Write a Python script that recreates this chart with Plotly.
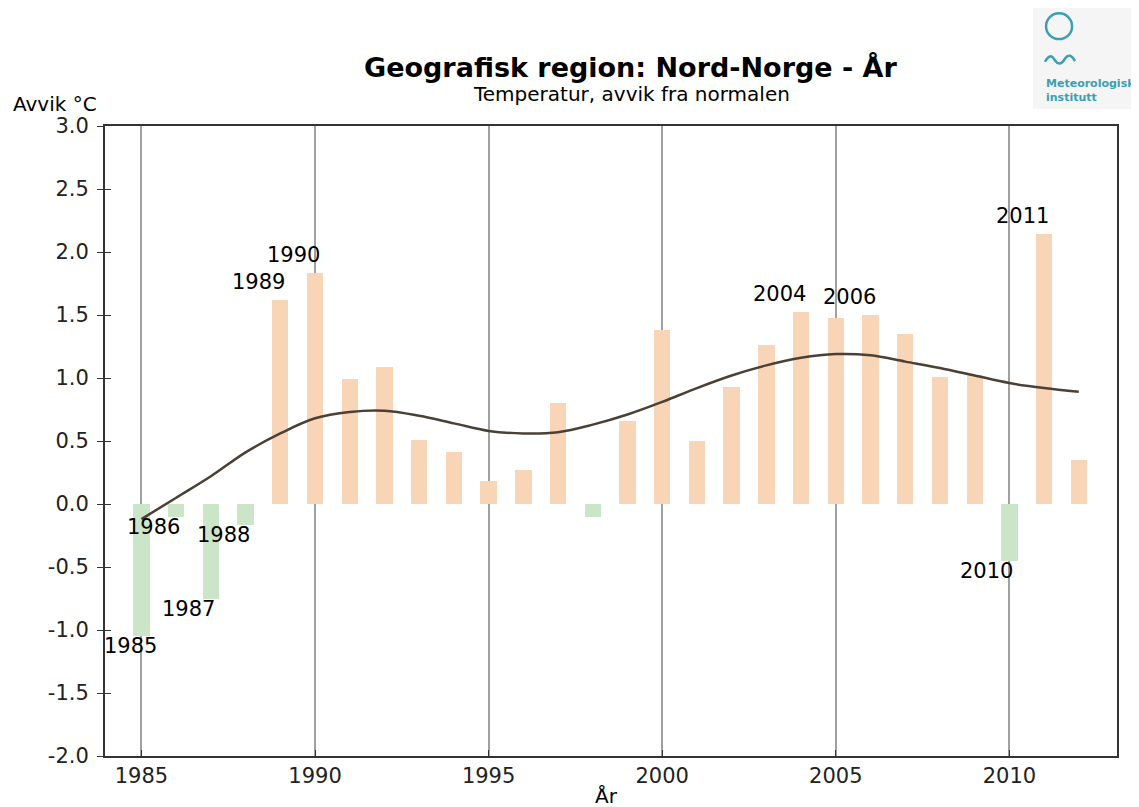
import plotly.graph_objects as go

years = list(range(1985, 2013))
avvik = [-1.05, -0.10, -0.75, -0.17, 1.62, 1.83, 0.99, 1.09, 0.51, 0.41,
         0.18, 0.27, 0.80, -0.10, 0.66, 1.38, 0.50, 0.93, 1.26, 1.52,
         1.48, 1.50, 1.35, 1.01, 1.02, -0.45, 2.14, 0.35]
trend = [-0.12, 0.05, 0.22, 0.41, 0.56, 0.68, 0.73, 0.74, 0.70, 0.64,
         0.58, 0.56, 0.57, 0.63, 0.71, 0.81, 0.92, 1.02, 1.10, 1.16,
         1.19, 1.18, 1.13, 1.08, 1.02, 0.96, 0.92, 0.89]
labelled = [1985, 1986, 1987, 1988, 1989, 1990, 2004, 2006, 2010, 2011]
yticks = [-2.0, -1.5, -1.0, -0.5, 0.0, 0.5, 1.0, 1.5, 2.0, 2.5, 3.0]
ytick_text = ['-2.0', '-1.5', '-1.0', '-0.5', '0.0', '0.5', '1.0', '1.5', '2.0', '2.5', '3.0']
xticks = [1985, 1990, 1995, 2000, 2005, 2010]

POS = '#f7d5b6'
NEG = '#cbe5c8'
TEAL = '#3a9fb3'
FONT = 'DejaVu Sans'

fig = go.Figure()
fig.add_trace(go.Bar(
    x=years, y=avvik, width=0.47,
    marker_color=[POS if v >= 0 else NEG for v in avvik],
    marker_line_width=0, showlegend=False, hoverinfo='x+y'))
fig.add_trace(go.Scatter(
    x=years, y=trend, mode='lines', line=dict(color='#4a4036', width=2.5, shape='spline'),
    showlegend=False))

# year labels on selected bars
for yr in labelled:
    v = avvik[years.index(yr)]
    if v >= 0:
        fig.add_annotation(x=yr, y=v, text=str(yr), showarrow=False, xanchor='right',
                           yanchor='bottom', xshift=7, yshift=4)
    else:
        fig.add_annotation(x=yr, y=v, text=str(yr), showarrow=False, xanchor='right',
                           yanchor='top', xshift=18 if yr == 1985 else 6, yshift=4)

# titles
fig.add_annotation(xref='paper', yref='paper', x=0.52, y=1.0, yshift=59,
                   text='<b>Geografisk region: Nord-Norge - År</b>',
                   showarrow=False, font=dict(size=27, color='black'), xanchor='center', yanchor='middle')
fig.add_annotation(xref='paper', yref='paper', x=0.52, y=1.0, yshift=32,
                   text='Temperatur, avvik fra normalen',
                   showarrow=False, font=dict(size=20, color='black'), xanchor='center', yanchor='middle')
fig.add_annotation(xref='paper', yref='paper', x=-0.093, y=1.0, yshift=22, text='Avvik °C',
                   showarrow=False, font=dict(size=20, color='black'), xanchor='left', yanchor='middle')
fig.add_annotation(xref='paper', yref='paper', x=0.496, y=0, yshift=-40, text='År',
                   showarrow=False, font=dict(size=20, color='black'), xanchor='center', yanchor='middle')

# logo
fig.add_shape(type='rect', xref='paper', yref='paper', x0=0.917, x1=1.018, y0=1.027, y1=1.19,
              line_width=0, fillcolor='#f5f5f5', layer='below')
fig.add_shape(type='circle', xref='paper', yref='paper', x0=0.9299, x1=0.9556, y0=1.138, y1=1.179,
              line=dict(color=TEAL, width=2.5))
fig.add_shape(type='path', xref='paper', yref='paper',
              path='M 0.9289,1.102 Q 0.9338,1.118 0.9387,1.104 Q 0.9437,1.093 0.9486,1.107 '
                   'Q 0.9535,1.118 0.9585,1.103',
              line=dict(color=TEAL, width=2.5))
fig.add_annotation(xref='paper', yref='paper', x=0.9275, y=1.068, text='<b>Meteorologisk</b>',
                   showarrow=False, font=dict(size=11, color=TEAL), xanchor='left', yanchor='middle')
fig.add_annotation(xref='paper', yref='paper', x=0.9275, y=1.045, text='<b>institutt</b>',
                   showarrow=False, font=dict(size=11, color=TEAL), xanchor='left', yanchor='middle')

fig.update_layout(
    width=1131, height=799,
    margin=dict(l=97, r=22, t=118, b=51),
    paper_bgcolor='white', plot_bgcolor='white',
    font=dict(family=FONT, size=21, color='black'),
    bargap=0,
    xaxis=dict(range=[1983.95, 2013.1], tickvals=xticks, ticks='inside', ticklen=6, tickcolor='#333',
               showgrid=True, gridcolor='#a0a0a0', gridwidth=1.5, zeroline=False,
               showline=True, linecolor='#333', linewidth=2, mirror=True,
               tickfont=dict(size=21, color='#222')),
    yaxis=dict(range=[-2.0, 3.0], tickvals=yticks, ticktext=ytick_text, ticks='outside', ticklen=6,
               tickcolor='#333', showgrid=False, zeroline=False, ticklabelstandoff=4,
               showline=True, linecolor='#333', linewidth=2, mirror=True,
               tickfont=dict(size=21, color='#222')),
    yaxis2=dict(range=[-2.0, 3.0], tickvals=yticks, ticks='inside', ticklen=6, tickcolor='#333',
                showticklabels=False, showgrid=False, zeroline=False, overlaying='y', side='left'),
)
fig.add_trace(go.Scatter(x=[None], y=[None], yaxis='y2', showlegend=False))

fig.write_html('out.html')
